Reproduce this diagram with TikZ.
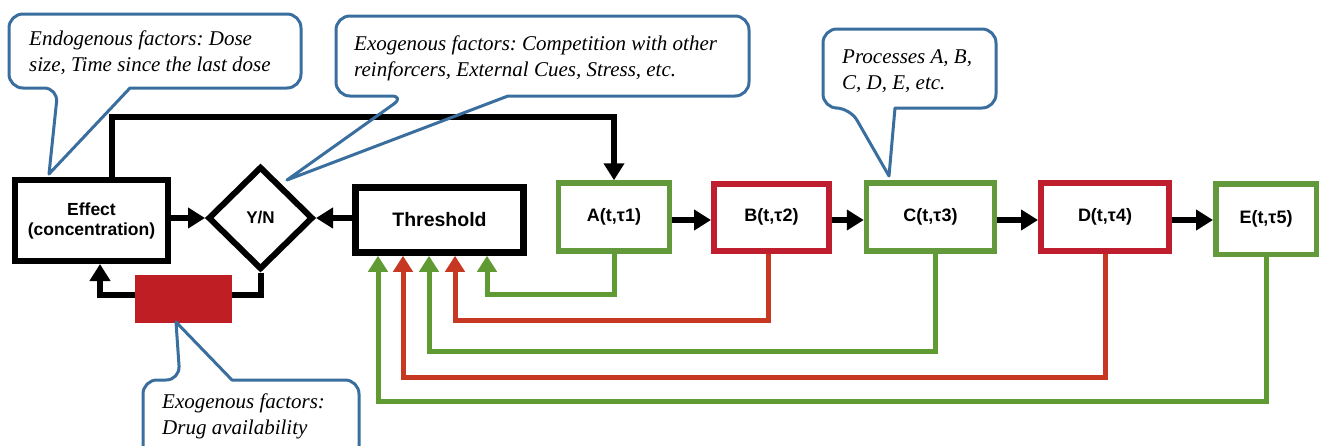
\documentclass[tikz,border=0pt]{standalone}
\usepackage{fontspec}
\setmainfont{Liberation Serif}
\setsansfont{Liberation Sans}
\usetikzlibrary{arrows.meta,shapes.geometric,calc}
\definecolor{bxgreen}{RGB}{98,153,58}
\definecolor{bxred}{RGB}{190,30,45}
\definecolor{lngreen}{RGB}{95,154,51}
\definecolor{lnred}{RGB}{198,56,34}
\definecolor{callblue}{RGB}{58,110,158}
\definecolor{fillred}{RGB}{190,30,36}
\frenchspacing
\begin{document}
\begin{tikzpicture}[x=1pt,y=-1pt,
  box/.style={draw, rectangle, inner sep=0pt, align=center,
    font=\sffamily\bfseries\fontsize{18}{20}\selectfont},
  blk/.style={line width=6pt, line join=miter, -{Triangle[length=17pt,width=20pt]}},
  fbline/.style={line width=5pt, line join=miter, -{Triangle[length=16pt,width=19pt]}},
  callout/.style={draw=callblue, line width=3pt, line join=round},
  ctext/.style={font=\itshape\fontsize{21}{26}\selectfont, align=left, inner sep=0pt, anchor=north west}
]
\useasboundingbox (0,0) rectangle (1322,445);
\clip (0,0) rectangle (1322,445);

% main nodes
\node[box, line width=6pt, minimum width=153pt, minimum height=81pt,
  font=\sffamily\bfseries\fontsize{17.5}{20}\selectfont] (eff) at (91.5,220.5) {Effect\\(concentration)};
\node[draw, diamond, line width=6pt, minimum width=105pt, minimum height=103pt, inner sep=0pt,
  font=\sffamily\bfseries\fontsize{17}{19}\selectfont] (yn) at (260.5,218) {Y/N};
\node[box, line width=6.5pt, minimum width=168pt, minimum height=65pt,
  font=\sffamily\bfseries\fontsize{19.5}{22}\selectfont] (th) at (439.5,220) {Threshold};
\node[box, draw=bxgreen, line width=5.5pt, minimum width=111pt, minimum height=68pt] (A) at (614,217) {A(t,τ1)};
\node[box, draw=bxred, line width=6pt, minimum width=115pt, minimum height=67pt] (B) at (771.5,217) {B(t,τ2)};
\node[box, draw=bxgreen, line width=5.5pt, minimum width=128pt, minimum height=68pt] (C) at (930.5,217) {C(t,τ3)};
\node[box, draw=bxred, line width=6pt, minimum width=128pt, minimum height=68pt] (D) at (1105,217) {D(t,τ4)};
\node[box, draw=bxgreen, line width=5.5pt, minimum width=100.5pt, minimum height=70.5pt] (E) at (1266,219) {E(t,τ5)};

% black arrows
\draw[blk] (eff.east |- yn.west) -- (yn.west);
\draw[blk] (th.west |- yn.east) -- (yn.east);
\draw[blk] ([yshift=-3pt]A.east) -- ([yshift=-3pt]B.west);
\draw[blk] ([yshift=-3pt]B.east) -- ([yshift=-3pt]C.west);
\draw[blk] ([yshift=-3pt]C.east) -- ([yshift=-3pt]D.west);
\draw[blk] ([yshift=-3pt]D.east) -- ([yshift=-1pt]E.west);

% top loop
\coordinate (t1) at (112,117);
\draw[blk] (eff.north -| t1) -- (t1) -| (A.north);

% bottom loop
\coordinate (b1) at (100,295);
\draw[blk] (yn.south) |- (b1) -- (b1 |- eff.south);
\node[fill=fillred, minimum width=97pt, minimum height=48pt, inner sep=0pt] (drug) at (183.5,299) {};

% feedback lines
\coordinate (fA) at (487,294);
\coordinate (fB) at (455,320);
\coordinate (fC) at (429,351);
\coordinate (fD) at (403,377);
\coordinate (fE) at (378,401);
\draw[fbline, lngreen] (A.south) |- (fA) -- (fA |- th.south);
\draw[fbline, lnred] ([xshift=-3.5pt]B.south) |- (fB) -- (fB |- th.south);
\draw[fbline, lngreen] ([xshift=4.5pt]C.south) |- (fC) -- (fC |- th.south);
\draw[fbline, lnred] (D.south) |- (fD) -- (fD |- th.south);
\draw[fbline, lngreen] (E.south) |- (fE) -- (fE |- th.south);

% callouts
\draw[callout] (130,88) [rounded corners=14pt] -- (301,88) -- (301,14) -- (9,14) -- (9,88) -- (58,88) [sharp corners] -- (49,174) -- cycle;
\draw[callout] (508,96) [rounded corners=14pt] -- (749,96) -- (749,16) -- (336,16) -- (336,96) -- (405,96) [sharp corners] -- (287,180) -- cycle;
\draw[callout] (895,108) [rounded corners=14pt] -- (996,108) -- (996,29) -- (823,29) -- (823,108) -- (850,108) [sharp corners] -- (889,176) -- cycle;
\draw[callout] (232,380) [rounded corners=14pt] -- (359,380) -- (359,470) -- (143,470) -- (143,380) -- (180,380) [sharp corners] -- (176,322) -- cycle;

\node[ctext] (c1t) at (29,30.5) {Endogenous factors: Dose\\size, Time since the last dose};
\node[ctext] (c2t) at (354,35.5) {Exogenous factors: Competition with other\\reinforcers, External Cues, Stress, etc.};
\node[ctext] (c3t) at (842,49) {Processes A, B,\\C, D, E, etc.};
\node[ctext] (c4t) at (162,394) {Exogenous factors:\\Drug availability};
\end{tikzpicture}
\end{document}
